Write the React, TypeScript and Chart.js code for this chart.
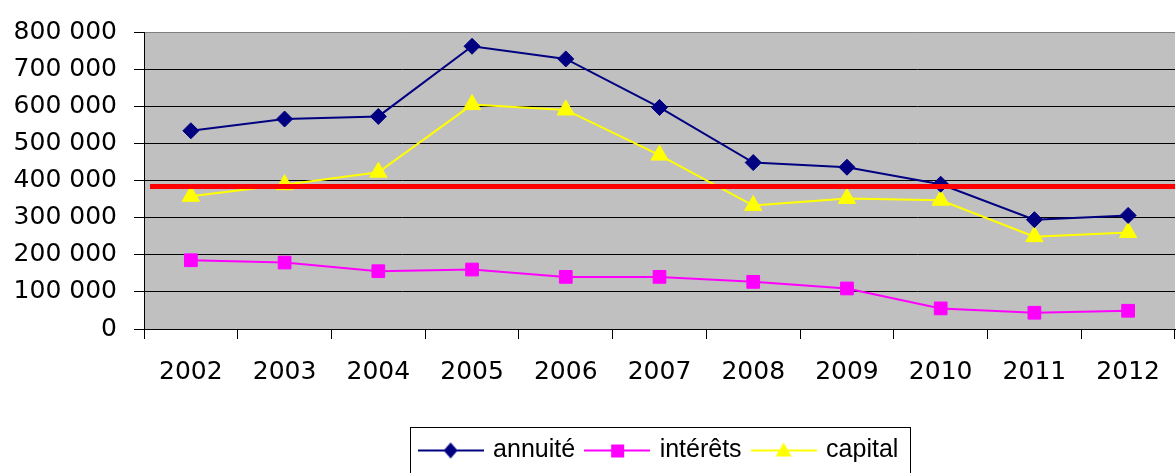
import React, { useEffect, useRef } from 'react';
import { Chart, registerables } from 'chart.js';

Chart.register(...registerables);

const years = ['2002', '2003', '2004', '2005', '2006', '2007', '2008', '2009', '2010', '2011', '2012'];
const annuite = [534000, 565600, 572600, 761600, 727500, 596800, 448300, 435700, 390000, 294500, 306000];
const interets = [185200, 179000, 155700, 160200, 140400, 140400, 127000, 109200, 55500, 43800, 49100];
const capital = [357600, 388800, 422300, 604500, 590000, 468500, 332400, 351700, 346800, 248800, 259900];
const seuil = 384000;
const yTicks = [0, 100000, 200000, 300000, 400000, 500000, 600000, 700000, 800000];

const NAVY = '#000080';
const MAGENTA = '#FF00FF';
const YELLOW = '#FFFF00';

function fmt(v: number): string {
  return String(v).replace(/\B(?=(\d{3})+(?!\d))/g, ' ');
}

function legendImage(color: string, shape: string): HTMLCanvasElement {
  const c = document.createElement('canvas');
  c.width = 66;
  c.height = 20;
  const g = c.getContext('2d')!;
  g.strokeStyle = color;
  g.lineWidth = 2;
  g.beginPath();
  g.moveTo(0, 10);
  g.lineTo(66, 10);
  g.stroke();
  g.fillStyle = color;
  g.beginPath();
  if (shape === 'diamond') {
    g.moveTo(33, 2);
    g.lineTo(40, 10);
    g.lineTo(33, 18);
    g.lineTo(26, 10);
  } else if (shape === 'square') {
    g.rect(27, 4, 13, 13);
  } else {
    g.moveTo(33, 2);
    g.lineTo(41, 16);
    g.lineTo(25, 16);
  }
  g.closePath();
  g.fill();
  return c;
}

export default function App() {
  const ref = useRef<HTMLCanvasElement | null>(null);

  useEffect(() => {
    document.body.style.margin = '0';
    const canvas = ref.current;
    if (!canvas) return;

    const images = [
      legendImage(NAVY, 'diamond'),
      legendImage(MAGENTA, 'square'),
      legendImage(YELLOW, 'triangle'),
    ];

    const bgPlugin = {
      id: 'plotBg',
      beforeDraw(chart: any) {
        const { ctx, chartArea } = chart;
        ctx.save();
        ctx.fillStyle = '#C0C0C0';
        ctx.fillRect(chartArea.left, chartArea.top, chartArea.right - chartArea.left, chartArea.bottom - chartArea.top);
        ctx.restore();
      },
    };

    const seuilPlugin = {
      id: 'seuil',
      afterDatasetsDraw(chart: any) {
        const { ctx, chartArea, scales } = chart;
        const y = scales.y.getPixelForValue(seuil);
        ctx.save();
        ctx.strokeStyle = '#FF0000';
        ctx.lineWidth = 5;
        ctx.beginPath();
        ctx.moveTo(chartArea.left + 6, y);
        ctx.lineTo(chartArea.right, y);
        ctx.stroke();
        ctx.restore();
      },
    };

    const legendBorder = {
      id: 'legendBorder',
      afterDraw(chart: any) {
        const lg = chart.legend;
        if (!lg || !lg.legendHitBoxes || !lg.legendHitBoxes.length) return;
        const boxes = lg.legendHitBoxes;
        const first = boxes[0];
        const last = boxes[boxes.length - 1];
        const left = Math.round(first.left - 11) + 0.5;
        const right = Math.round(last.left + last.width + 12) + 0.5;
        const top = Math.round(lg.top + 1) + 0.5;
        const { ctx } = chart;
        ctx.save();
        ctx.strokeStyle = '#000000';
        ctx.lineWidth = 1;
        ctx.strokeRect(left, top, right - left, 100);
        ctx.restore();
      },
    };

    const chart = new Chart(canvas, {
      type: 'line',
      data: {
        labels: years,
        datasets: [
          {
            label: 'annuité',
            data: annuite,
            borderColor: NAVY,
            backgroundColor: NAVY,
            borderWidth: 2,
            pointStyle: 'rectRot',
            pointRadius: 8,
            pointBorderWidth: 1,
            pointBackgroundColor: NAVY,
            pointBorderColor: NAVY,
            tension: 0,
          },
          {
            label: 'intérêts',
            data: interets,
            borderColor: MAGENTA,
            backgroundColor: MAGENTA,
            borderWidth: 2,
            pointStyle: 'rect',
            pointRadius: 9,
            pointBorderWidth: 1,
            pointBackgroundColor: MAGENTA,
            pointBorderColor: MAGENTA,
            tension: 0,
          },
          {
            label: 'capital',
            data: capital,
            borderColor: YELLOW,
            backgroundColor: YELLOW,
            borderWidth: 2,
            pointStyle: 'triangle',
            pointRadius: 10,
            pointBorderWidth: 1,
            pointBackgroundColor: YELLOW,
            pointBorderColor: YELLOW,
            tension: 0,
          },
        ],
      },
      options: {
        responsive: false,
        animation: false,
        devicePixelRatio: 1,
        layout: { padding: { top: 31, left: 0, right: 1, bottom: 0 } },
        plugins: {
          tooltip: { enabled: false },
          legend: {
            position: 'bottom',
            fullSize: false,
            labels: {
              usePointStyle: true,
              pointStyleWidth: 60,
              padding: 12,
              color: '#000000',
              font: { family: '"Liberation Sans", Arial, sans-serif', size: 25 },
              generateLabels(ch: any) {
                const base = Chart.defaults.plugins.legend.labels.generateLabels(ch);
                return base.map((item: any, i: number) => ({ ...item, pointStyle: images[i] }));
              },
            },
          },
        },
        scales: {
          x: {
            type: 'category',
            offset: true,
            afterFit(scale: any) {
              scale.height = 97;
            },
            grid: {
              offset: true,
              drawOnChartArea: false,
              drawTicks: true,
              tickLength: 10,
              color: '#000000',
              tickColor: '#000000',
            },
            border: { display: true, color: '#000000', width: 1 },
            ticks: {
              color: '#000000',
              padding: 18,
              maxRotation: 0,
              autoSkip: false,
              font: { family: '"DejaVu Sans", sans-serif', size: 25 },
            },
          },
          y: {
            min: 0,
            max: 800000,
            afterFit(scale: any) {
              scale.width = 144;
            },
            afterBuildTicks(scale: any) {
              scale.ticks = yTicks.map((v) => ({ value: v }));
            },
            grid: {
              drawTicks: true,
              tickLength: 10,
              color: (ctx: any) => (ctx.tick && ctx.tick.value === 800000 ? '#808080' : '#000000'),
              tickColor: '#000000',
              lineWidth: 1,
            },
            border: { display: true, color: '#000000', width: 1 },
            ticks: {
              color: '#000000',
              padding: 17,
              font: { family: '"DejaVu Sans", sans-serif', size: 25 },
              callback: (v: any) => fmt(Number(v)),
            },
          },
        },
      },
      plugins: [bgPlugin, seuilPlugin, legendBorder],
    });

    return () => {
      chart.destroy();
    };
  }, []);

  return (
    <div style={{ width: 1176, height: 473, overflow: 'hidden', position: 'relative', background: '#fff' }}>
      <canvas ref={ref} width={1186} height={473} style={{ display: 'block', width: 1186, height: 473 }} />
    </div>
  );
}
